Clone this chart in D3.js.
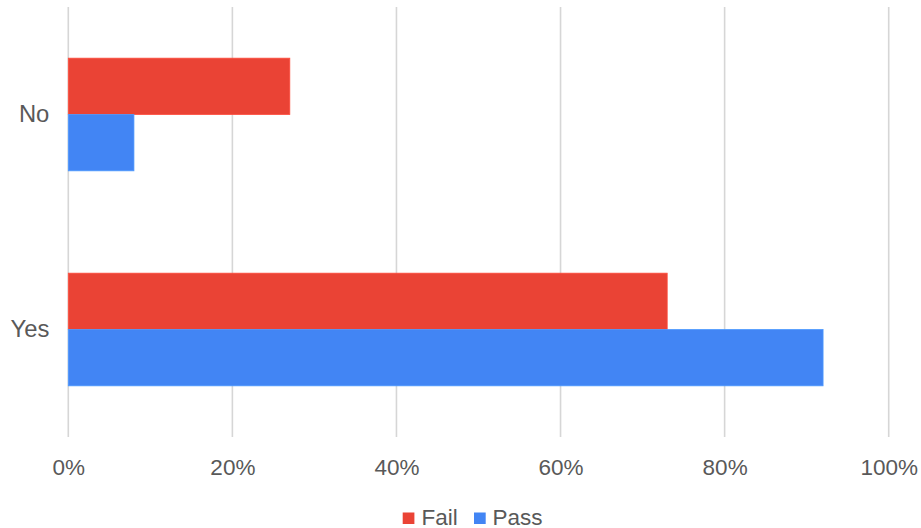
<!DOCTYPE html>
<html>
<head>
<meta charset="utf-8">
<script src="https://cdn.jsdelivr.net/npm/d3@7"></script>
<style>
  html, body { margin: 0; padding: 0; background: #fff; }
  svg { display: block; font-family: "Liberation Sans", Arial, sans-serif; }
</style>
</head>
<body>
<svg id="chart" width="921" height="528"></svg>
<script>
// Share of each answer group, split by outcome (percent)
const categories = ["No", "Yes"];
const seriesNames = ["Fail", "Pass"];
const failValues = [27, 73];
const passValues = [8, 92];
const xTicks = [0, 20, 40, 60, 80, 100];
const seriesColors = ["#EA4335", "#4285F4"];

const rows = categories.map((c, i) => ({ category: c, values: [failValues[i], passValues[i]] }));

const svg = d3.select("#chart");
const margin = { left: 68.3, right: 921 - 888.7, top: 7, bottom: 528 - 437 };
const width = 921, height = 528;
const textColor = "#595959";

const x = d3.scaleLinear().domain([0, 100]).range([margin.left, width - margin.right]);
const y = d3.scaleBand().domain(categories).range([margin.top, height - margin.bottom])
  .paddingInner(0.476).paddingOuter(0.238);
const ySub = d3.scaleBand().domain(seriesNames).range([0, y.bandwidth()]);
const color = d3.scaleOrdinal().domain(seriesNames).range(seriesColors);

// vertical gridlines
svg.append("g")
  .selectAll("line")
  .data(xTicks)
  .join("line")
  .attr("x1", d => x(d)).attr("x2", d => x(d))
  .attr("y1", margin.top).attr("y2", height - margin.bottom)
  .attr("stroke", "#d6d6d6")
  .attr("stroke-width", 1.6);

// bars
const groups = svg.append("g")
  .selectAll("g")
  .data(rows)
  .join("g")
  .attr("transform", d => `translate(0,${y(d.category)})`);

groups.selectAll("rect")
  .data(d => d.values.map((v, j) => ({ key: seriesNames[j], value: v })))
  .join("rect")
  .attr("x", x(0))
  .attr("y", d => ySub(d.key))
  .attr("width", d => x(d.value) - x(0))
  .attr("height", ySub.bandwidth())
  .attr("fill", d => color(d.key))
  .attr("stroke", d => d3.color(color(d.key)).brighter(0.4))
  .attr("stroke-width", 0.8);

// x tick labels
const xAxis = d3.axisBottom(x).tickValues(xTicks).tickFormat(d => d + "%").tickSize(0).tickPadding(0);
const gx = svg.append("g")
  .attr("transform", `translate(0,${height - margin.bottom})`)
  .call(xAxis);
gx.select(".domain").remove();
gx.selectAll("text")
  .attr("dy", null)
  .attr("y", 38)
  .attr("font-size", 22.5)
  .attr("font-family", "Liberation Sans, Arial, sans-serif")
  .attr("fill", textColor);

// y category labels
const yAxis = d3.axisLeft(y).tickSize(0).tickPadding(19);
const gy = svg.append("g")
  .attr("transform", `translate(${margin.left},0)`)
  .call(yAxis);
gy.select(".domain").remove();
gy.selectAll("text")
  .attr("font-size", 23.8)
  .attr("font-family", "Liberation Sans, Arial, sans-serif")
  .attr("fill", textColor);

// legend
const legendItems = [
  { key: "Fail", sx: 402.7, tx: 421.5 },
  { key: "Pass", sx: 474, tx: 492.5 }
];
const legend = svg.append("g");
legend.selectAll("rect")
  .data(legendItems)
  .join("rect")
  .attr("x", d => d.sx).attr("y", 512.5)
  .attr("width", 11.7).attr("height", 11.5)
  .attr("fill", d => color(d.key));
legend.selectAll("text")
  .data(legendItems)
  .join("text")
  .attr("x", d => d.tx).attr("y", 524.5)
  .attr("font-size", 22.5)
  .attr("fill", textColor)
  .text(d => d.key);
</script>
</body>
</html>
